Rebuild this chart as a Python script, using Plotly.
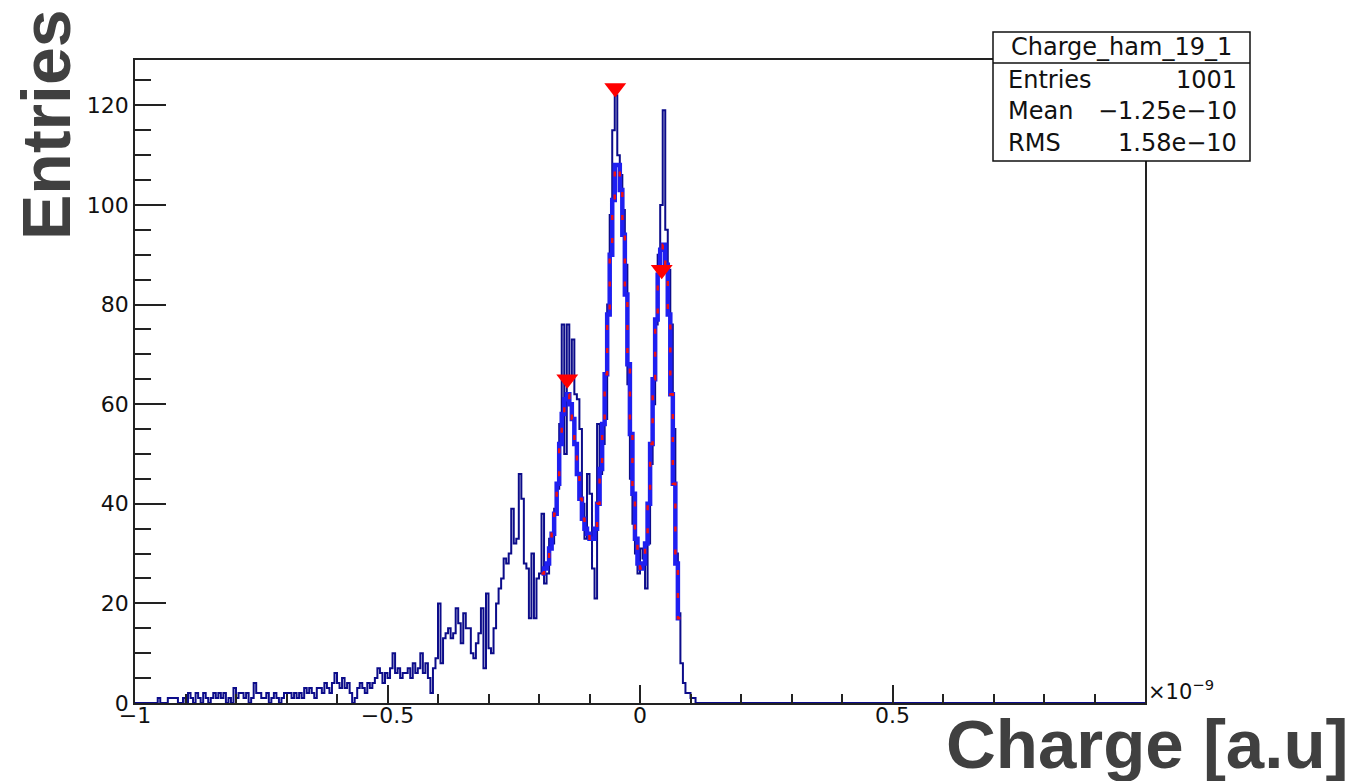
import plotly.graph_objects as go

# ---------------- data (x in units of 1e-9) ----------------
bin_lo = -1.0
bin_w = 0.005
n_bins = 400

lead_zero_bins = 8  # bins from -1.00 to -0.96 are empty
counts_m096 = [0,1,0,0,0,1,1,1,1,0,0,1,0,2,1,0,2,1,0,2]          # -0.960 .. -0.865
counts_m086 = [1,0,1,2,1,2,1,2,0,1,0,3,1,2,2,1,2,0,1,4]          # -0.860 .. -0.765
counts_m076 = [2,2,1,1,2,0,1,2,1,0,1,2,2,2,1,2,1,2,1,3]          # -0.760 .. -0.665
counts_m066 = [2,3,2,1,3,3,2,4,3,2,4,6,4,3,5,3,4,2,0,1]          # -0.660 .. -0.565
counts_m056 = [3,4,3,2,4,3,4,5,7,6,4,6,5,7,10,6,7,5,6,6]         # -0.560 .. -0.465
counts_m046 = [7,5,8,6,7,10,6,8,5,2,7,9,20,8,13,14,15,13,14,19]  # -0.460 .. -0.365
counts_m036 = [16,12,18,15,15,10,9,12,14,19,7,22,11,10,15,20,23,25,29,28]   # -0.360 .. -0.265
counts_m026 = [30,39,32,33,46,41,28,27,17,30,17,25,26,38,24,26,33,32,39,43] # -0.260 .. -0.165
counts_m016 = [56,76,50,76,65,73,62,61,55,40,33,46,42,27,21,56,46,52,57,80] # -0.160 .. -0.065
counts_m006 = [98,115,122,110,106,99,88,64,45,36,30,26,31,29,23,32,48,60,76,90]  # -0.060 .. 0.035
counts_p004 = [100,119,95,87,76,55,30,18,8,4,2,2,1,1]             # 0.040 .. 0.105

# smoothed spectrum (blue) starting at bin edge -0.195
smooth_lo = -0.195
smooth_vals = [26,27,28,31,34,38,44,52,58,
               61,62,60,57,52,46,41,37,35,34,33,
               33,35,40,47,56,66,78,90,101,108,
               108,103,94,82,68,54,42,33,28,27,
               28,32,40,52,65,77,86,91,92,88,
               78,62,44,28,17]

# peaks found (markers)
peak_x = [-0.049, 0.043, -0.144]
peak_y = [123.5, 87.0, 65.0]

# stats box
stat_title = "Charge_ham_19_1"
stat_names = ["Entries", "Mean", "RMS"]
stat_values = ["1001", "\u22121.25e\u221210", "1.58e\u221210"]

x_tick_vals = [-1, -0.5, 0, 0.5]
x_tick_text = ["\u22121", "\u22120.5", "0", "0.5"]
y_tick_vals = [0, 20, 40, 60, 80, 100, 120]

# ---------------- build ----------------
counts = ([0] * lead_zero_bins + counts_m096 + counts_m086 + counts_m076 + counts_m066 +
          counts_m056 + counts_m046 + counts_m036 + counts_m026 + counts_m016 +
          counts_m006 + counts_p004)
counts = counts + [0] * (n_bins - len(counts))
edges = [bin_lo + bin_w * i for i in range(n_bins + 1)]

sm_edges = [smooth_lo + bin_w * i for i in range(len(smooth_vals) + 1)]

fig = go.Figure()
fig.add_trace(go.Scatter(
    x=edges, y=counts + [counts[-1]], mode="lines", line_shape="hv",
    line=dict(color="#0c0c8a", width=2), hoverinfo="skip", showlegend=False))
fig.add_trace(go.Scatter(
    x=sm_edges, y=smooth_vals + [smooth_vals[-1]], mode="lines", line_shape="hv",
    line=dict(color="#1f1ff0", width=4.5), hoverinfo="skip", showlegend=False))
fig.add_trace(go.Scatter(
    x=sm_edges, y=smooth_vals + [smooth_vals[-1]], mode="lines", line_shape="hv",
    line=dict(color="#ee1111", width=2.5, dash="5px,18px"), hoverinfo="skip", showlegend=False))
fig.add_trace(go.Scatter(
    x=peak_x, y=peak_y, mode="markers",
    marker=dict(symbol="triangle-down", size=19, color="#ff0000", line=dict(width=0)),
    hoverinfo="skip", showlegend=False))

L, R, T, B = 135, 1145, 60, 703
W, H = 1355, 781
pw, ph = R - L, B - T

def px(xp):
    return (xp - L) / pw

def py(yp):
    return (B - yp) / ph

tick_font = dict(family="DejaVu Sans", size=22, color="#111111")

fig.update_layout(
    width=W, height=H,
    margin=dict(l=L, r=W - R, t=T, b=H - B, autoexpand=False),
    paper_bgcolor="white", plot_bgcolor="white",
    xaxis=dict(range=[-1, 1], showgrid=False, zeroline=False,
               showline=True, linecolor="#222222", linewidth=1.5, mirror=True,
               ticks="inside", ticklen=18, tickwidth=1.5, tickcolor="#222222",
               tickmode="array", tickvals=x_tick_vals, ticktext=x_tick_text,
               tickfont=tick_font, ticklabelstandoff=-8,
               minor=dict(tickmode="linear", tick0=0, dtick=0.1, ticks="inside",
                          ticklen=9, tickwidth=1.5, tickcolor="#222222", showgrid=False)),
    yaxis=dict(range=[0, 129.1], showgrid=False, zeroline=False,
               showline=True, linecolor="#222222", linewidth=1.5, mirror=True,
               ticks="inside", ticklen=31, tickwidth=1.5, tickcolor="#222222",
               tickmode="array", tickvals=y_tick_vals, tickfont=tick_font,
               minor=dict(tickmode="linear", tick0=0, dtick=5, ticks="inside",
                          ticklen=16, tickwidth=1.5, tickcolor="#222222", showgrid=False)),
)

# axis titles
fig.add_annotation(text="<b>Entries</b>", xref="paper", yref="paper",
                   x=px(46), y=py(125), xanchor="center", yanchor="middle",
                   textangle=-90, showarrow=False,
                   font=dict(family="Liberation Sans", size=68, color="#404040"))
fig.add_annotation(text="<b>Charge [a.u]</b>", xref="paper", yref="paper",
                   x=px(1351), y=py(744), xanchor="right", yanchor="middle",
                   showarrow=False,
                   font=dict(family="Liberation Sans", size=69, color="#404040"))
fig.add_annotation(text="\u00d710<sup>\u22129</sup>", xref="paper", yref="paper",
                   x=px(1146), y=py(690), xanchor="left", yanchor="middle",
                   showarrow=False,
                   font=dict(family="DejaVu Sans", size=21, color="#111111"))

# stats box
fig.add_shape(type="rect", xref="paper", yref="paper",
              x0=px(993), x1=px(1250), y0=py(161), y1=py(32),
              fillcolor="white", line=dict(color="#111111", width=1.5), layer="above")
fig.add_shape(type="line", xref="paper", yref="paper",
              x0=px(993), x1=px(1250), y0=py(63), y1=py(63),
              line=dict(color="#111111", width=1.5), layer="above")
stat_font = dict(family="DejaVu Sans", size=24, color="#111111")
fig.add_annotation(text=stat_title, xref="paper", yref="paper",
                   x=px(1121), y=py(47), xanchor="center", yanchor="middle",
                   showarrow=False, font=stat_font)
row_y = [80, 111, 143]
for name, val, yy in zip(stat_names, stat_values, row_y):
    fig.add_annotation(text=name, xref="paper", yref="paper",
                       x=px(1006), y=py(yy), xanchor="left", yanchor="middle",
                       showarrow=False, font=stat_font)
    fig.add_annotation(text=val, xref="paper", yref="paper",
                       x=px(1239), y=py(yy), xanchor="right", yanchor="middle",
                       showarrow=False, font=stat_font)

fig.write_html("out.html", config={"displayModeBar": False},
               post_script="document.body.style.margin='0';document.body.style.overflow='hidden';")
